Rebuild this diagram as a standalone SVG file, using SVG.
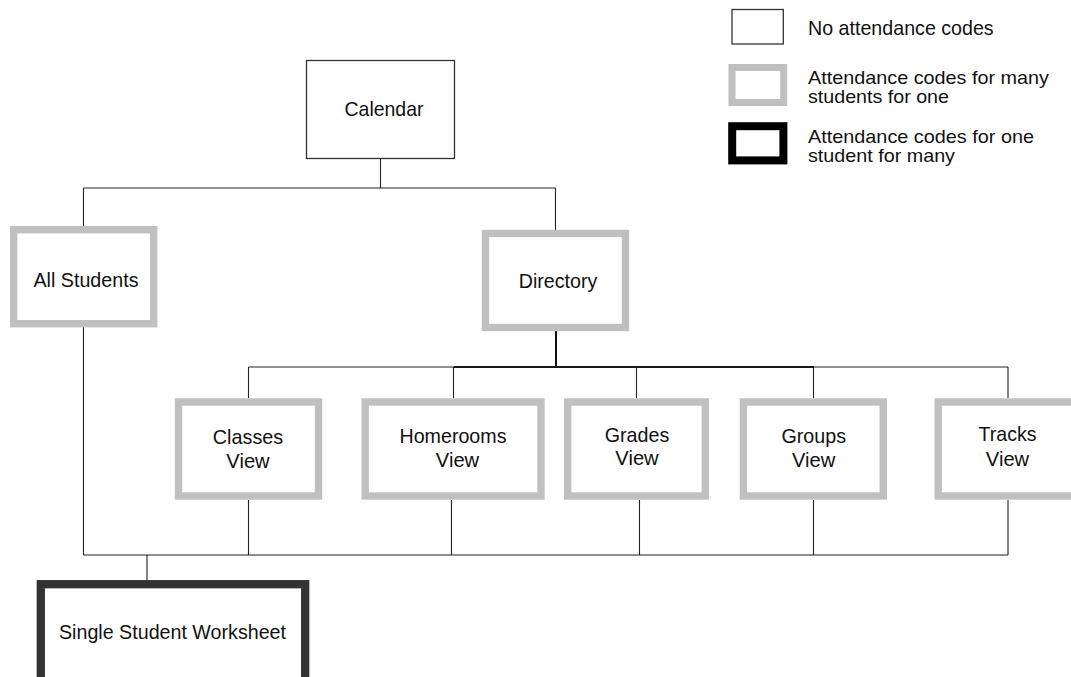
<svg xmlns="http://www.w3.org/2000/svg" width="1071" height="677" viewBox="0 0 1071 677">
<style>
text{font-family:"Liberation Sans",Arial,sans-serif;font-size:21px;fill:#111;}
.c{text-anchor:middle;}
.lg{font-size:19px;}
.plain{fill:#fff;stroke:#333;stroke-width:1.3;}
.gray{fill:#fff;stroke:#c0c0c0;stroke-width:7.4;}
.dark{fill:#fff;stroke:#333;stroke-width:8.3;}
.blk{fill:#fff;stroke:#000;stroke-width:8;}
.ln{stroke:#222;stroke-width:1.1;fill:none;}
.lnb{stroke:#111;stroke-width:2;fill:none;}
</style>
<rect width="1071" height="677" fill="#fff"/>
<g id="connectors">
<path class="ln" d="M380.5 159V188M83.5 188H555.5M83.5 188V226M555.5 188V230M83.5 327V555"/>
<path class="lnb" d="M556 331V367M454 367H814"/>
<path class="ln" d="M248.5 367H1008M248.5 367V398M453.5 367V398M636.5 367V398M813.5 367V398M1008 367V398"/>
<path class="ln" d="M248.5 500V555M451.5 500V555M639.5 500V555M813.5 500V555M1008 500V555M83.5 555H1008M147 555V580"/>
</g>
<g id="calendar">
<rect class="plain" x="306.5" y="60.5" width="148" height="98"/>
<text class="c" x="384" y="116" textLength="79" lengthAdjust="spacingAndGlyphs">Calendar</text>
</g>
<g id="all-students">
<rect class="gray" x="13.7" y="229.7" width="140" height="94"/>
<text class="c" x="86" y="287" textLength="105" lengthAdjust="spacingAndGlyphs">All Students</text>
</g>
<g id="directory">
<rect class="gray" x="485.5" y="233.5" width="140" height="94"/>
<text class="c" x="558" y="288" textLength="78.6" lengthAdjust="spacingAndGlyphs">Directory</text>
</g>
<g id="classes-view">
<rect class="gray" x="178.5" y="402" width="140" height="94"/>
<text class="c" x="248" y="444" textLength="70.5" lengthAdjust="spacingAndGlyphs">Classes</text>
<text class="c" x="248" y="467.5" textLength="43.3" lengthAdjust="spacingAndGlyphs">View</text>
</g>
<g id="homerooms-view">
<rect class="gray" x="365.2" y="402" width="175.8" height="94"/>
<text class="c" x="453" y="442.7" textLength="107" lengthAdjust="spacingAndGlyphs">Homerooms</text>
<text class="c" x="457.5" y="466.7" textLength="43.3" lengthAdjust="spacingAndGlyphs">View</text>
</g>
<g id="grades-view">
<rect class="gray" x="567.7" y="402" width="137.6" height="94"/>
<text class="c" x="637" y="441.7" textLength="64.6" lengthAdjust="spacingAndGlyphs">Grades</text>
<text class="c" x="637" y="465.3" textLength="43.3" lengthAdjust="spacingAndGlyphs">View</text>
</g>
<g id="groups-view">
<rect class="gray" x="743.4" y="402" width="139.9" height="94"/>
<text class="c" x="813.7" y="442.5" textLength="64.6" lengthAdjust="spacingAndGlyphs">Groups</text>
<text class="c" x="813.7" y="466.7" textLength="43.3" lengthAdjust="spacingAndGlyphs">View</text>
</g>
<g id="tracks-view">
<rect class="gray" x="938.2" y="402" width="139" height="94"/>
<text class="c" x="1007.5" y="440.7" textLength="58" lengthAdjust="spacingAndGlyphs">Tracks</text>
<text class="c" x="1007.5" y="465.8" textLength="43.3" lengthAdjust="spacingAndGlyphs">View</text>
</g>
<g id="single-student-worksheet">
<rect class="dark" x="40.8" y="584.2" width="264.4" height="100"/>
<text class="c" x="172.5" y="639" textLength="227" lengthAdjust="spacingAndGlyphs">Single Student Worksheet</text>
</g>
<g id="legend">
<rect class="plain" x="732" y="9.5" width="51.3" height="34.5"/>
<text x="808" y="35" textLength="185.7" lengthAdjust="spacingAndGlyphs">No attendance codes</text>
<rect class="gray" x="732" y="67.5" width="51.7" height="35" style="stroke-width:7"/>
<text class="lg" x="808" y="84" textLength="241" lengthAdjust="spacingAndGlyphs">Attendance codes for many</text>
<text class="lg" x="808" y="103" textLength="141" lengthAdjust="spacingAndGlyphs">students for one</text>
<rect class="blk" x="732.2" y="126.2" width="51.2" height="34.2"/>
<text class="lg" x="808" y="142.5" textLength="226" lengthAdjust="spacingAndGlyphs">Attendance codes for one</text>
<text class="lg" x="808" y="161.5" textLength="147" lengthAdjust="spacingAndGlyphs">student for many</text>
</g>
</svg>
